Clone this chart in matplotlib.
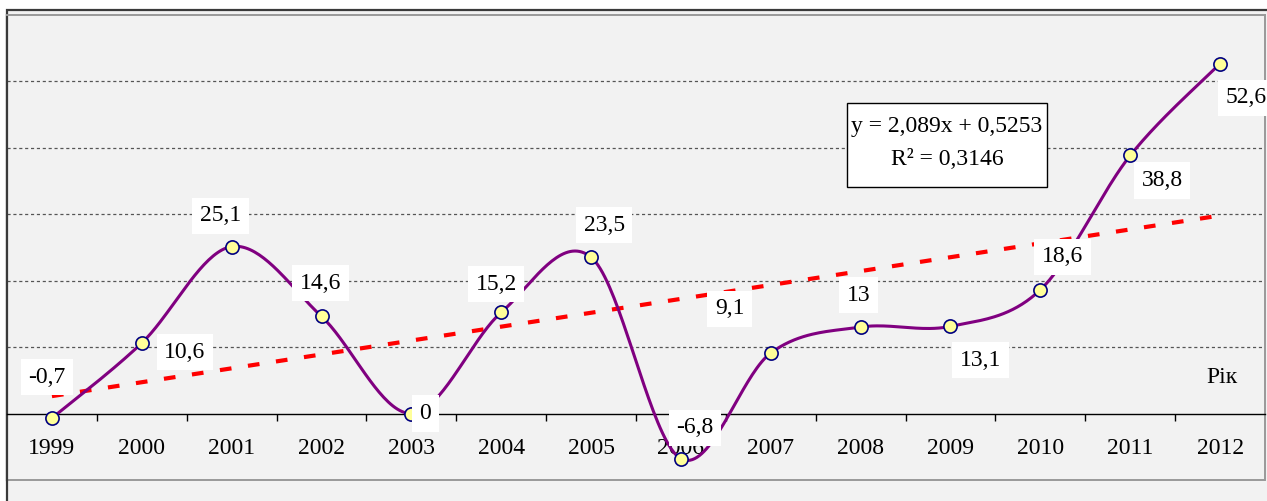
import matplotlib.pyplot as plt
from matplotlib.patches import Rectangle
import numpy as np

# data
years = ["1999", "2000", "2001", "2002", "2003", "2004", "2005",
         "2006", "2007", "2008", "2009", "2010", "2011", "2012"]
values = [-0.7, 10.6, 25.1, 14.6, 0, 15.2, 23.5,
          -6.8, 9.1, 13, 13.1, 18.6, 38.8, 52.6]
value_labels = ["-0,7", "10,6", "25,1", "14,6", "0", "15,2", "23,5",
                "-6,8", "9,1", "13", "13,1", "18,6", "38,8", "52,6"]
trend_text = "y = 2,089x + 0,5253"
r2_text = "R\u00b2 = 0,3146"
axis_title = "Рік"

# label offsets in pixels (dx, dy up)
label_offsets = [(-5, 41), (43, -9), (-11, 31), (-1, 33), (14, 0), (-5, 28), (13, 32),
                 (14, 31), (-41, 44), (-2, 32), (30, -34), (22, 33), (32, -25), (26, -34)]

plt.rcParams['font.family'] = ['Liberation Serif', 'DejaVu Serif']
FS = 17
BG = '#f2f2f2'


def smooth_curve(xs, ys, n=40):
    # Catmull-Rom style bezier smoothing (like spreadsheet "smoothed line")
    xs = np.asarray(xs, float)
    ys = np.asarray(ys, float)
    px = np.concatenate([[xs[0]], xs, [xs[-1]]])
    py = np.concatenate([[ys[0]], ys, [ys[-1]]])
    outx, outy = [], []
    t = np.linspace(0, 1, n)
    for i in range(1, len(px) - 2):
        p0 = np.array([px[i], py[i]])
        p3 = np.array([px[i + 1], py[i + 1]])
        c1 = p0 + (p3 - np.array([px[i - 1], py[i - 1]])) / 6.0
        c2 = p3 - (np.array([px[i + 2], py[i + 2]]) - p0) / 6.0
        b = ((1 - t) ** 3)[:, None] * p0 + (3 * (1 - t) ** 2 * t)[:, None] * c1 \
            + (3 * (1 - t) * t ** 2)[:, None] * c2 + (t ** 3)[:, None] * p3
        outx.extend(b[:, 0])
        outy.extend(b[:, 1])
    return np.array(outx), np.array(outy)


fig = plt.figure(figsize=(12.67, 5.01), dpi=100, facecolor='white')

# outer chart frame
fig.patches.append(Rectangle((7 / 1267, -0.05), 1.2, (501 - 10) / 501 + 0.05,
                             transform=fig.transFigure, facecolor=BG,
                             edgecolor='#3a3a3a', lw=1.6, zorder=-5))

ax = fig.add_axes([7 / 1267, 21 / 501, 1258 / 1267, 465.5 / 501])
ax.set_zorder(2)
ax.set_facecolor(BG)

x = np.arange(len(years))
ax.set_xlim(-0.5, len(years) - 0.5)
ax.set_ylim(-10, 60)

# grid
for g in [10, 20, 30, 40, 50]:
    ax.axhline(g, color='#555555', lw=0.9, linestyle=(0, (2.5, 2.2)), zorder=1)

# trend line from least squares fit
k, b0 = np.polyfit(x + 1, values, 1)
ax.plot(x, k * (x + 1) + b0, color='#ff0000', lw=3.0,
        linestyle=(0, (2.8, 4.0)), zorder=2, solid_capstyle='butt')

sx, sy = smooth_curve(x, values)
ax.plot(sx, sy, color='#800080', lw=2.2, zorder=3)
ax.plot(x, values, linestyle='none', marker='o', markersize=9.5,
        markerfacecolor='#ffff99', markeredgecolor='#000080',
        markeredgewidth=1.2, zorder=4)

for xi, v, lab, (dx, dy) in zip(x, values, value_labels, label_offsets):
    ax.annotate(lab, (xi, v), xytext=(dx, dy), textcoords='offset pixels',
                ha='center', va='center', fontsize=FS, zorder=6,
                bbox=dict(boxstyle='square,pad=0.32', facecolor='white', edgecolor='none'))

# spines
ax.spines['bottom'].set_position(('data', 0))
ax.spines['bottom'].set_color('black')
ax.spines['bottom'].set_linewidth(1.0)
ax.spines['left'].set_color('#3a3a3a')
ax.spines['left'].set_linewidth(1.6)
for s in ['top', 'right']:
    ax.spines[s].set_color('#999999')
    ax.spines[s].set_linewidth(1.4)
ax.add_patch(Rectangle((0, 0), 1, 0, transform=ax.transAxes, fill=False,
                       edgecolor='#999999', lw=1.4, clip_on=False))

ax.set_yticks([])
ax.set_xticks(x)
ax.set_xticklabels(years, fontsize=FS)
ax.set_xticks(np.arange(len(years) - 1) + 0.5, minor=True)
ax.tick_params(axis='x', which='major', length=0, pad=18)
ax.tick_params(axis='x', which='minor', length=5, width=1.0, color='black', direction='out')

# trend equation box
ax.add_patch(Rectangle((0.6677, 0.6301), 0.159, 0.1807, transform=ax.transAxes,
                       facecolor='white', edgecolor='black', lw=1.0, zorder=5))
ax.text(0.7472, 0.7591, trend_text, transform=ax.transAxes, ha='center', va='center',
        fontsize=FS, zorder=6)
ax.text(0.7472, 0.6882, r2_text, transform=ax.transAxes, ha='center', va='center',
        fontsize=FS, zorder=6)

ax.text(0.9658, 0.2194, axis_title, transform=ax.transAxes, ha='center', va='center',
        fontsize=FS, zorder=6)

fig.savefig('out.png', dpi=100, facecolor='white')
